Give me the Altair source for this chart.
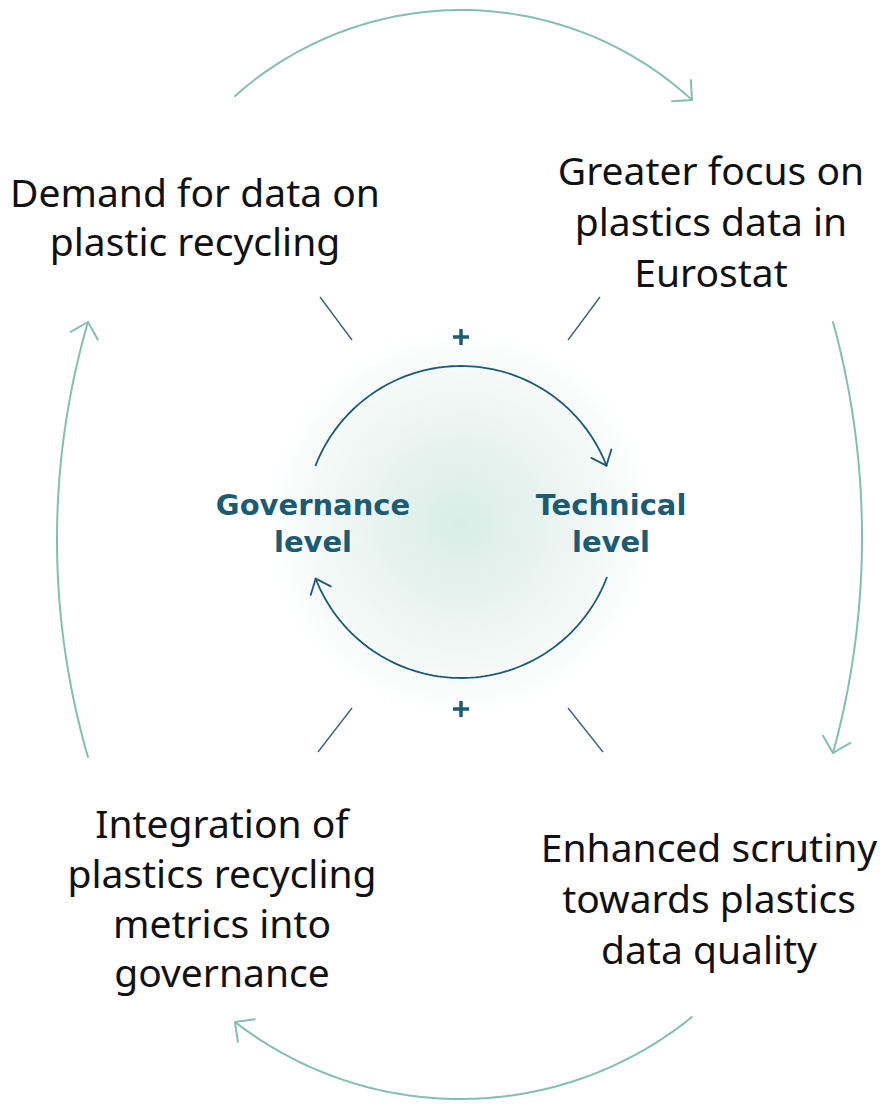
import math
import altair as alt
import pandas as pd

# ---------------- data (reference-pixel coordinates) ----------------
# outer loop arrows: start point, a point on the arc, end point (arrow tip)
outer_start = [(235, 96), (833, 322), (692, 1017), (88, 757)]
outer_mid = [(463, 10), (862, 537), (463, 1099), (57, 540)]
outer_end = [(692, 100), (833, 753), (235, 1022), (88, 322)]

# inner loop: centre, radius, arc start/end angles (deg, screen coords)
inner_center = (461, 522)
inner_radius = 156
inner_start_deg = [-158.7, 20.9]
inner_end_deg = [-21.2, 158.7]

# short connector strokes between boxes and inner loop
spoke_x1 = [320, 600, 352, 568]
spoke_y1 = [297, 297, 708, 708]
spoke_x2 = [352, 568, 318, 603]
spoke_y2 = [340, 340, 752, 752]

# "+" signs
plus_x = [461, 461]
plus_y = [337, 709]

# box labels (one row per text line)
label_lines = ["Demand for data on", "plastic recycling",
               "Greater focus on", "plastics data in", "Eurostat",
               "Integration of", "plastics recycling", "metrics into", "governance",
               "Enhanced scrutiny", "towards plastics", "data quality"]
label_x = [195, 195, 711, 711, 711, 222, 222, 222, 222, 709, 709, 709]
label_y = [207, 256, 185, 236, 287, 838, 888, 938, 987, 862, 913, 964]

center_lines = ["Governance", "level", "Technical", "level"]
center_x = [313, 313, 611, 611]
center_y = [515, 552, 515, 552]

# ---------------- geometry helpers ----------------
def circle_through(p0, pm, p1, n=80):
    ax, ay = p0; bx, by = pm; cx, cy = p1
    d = 2 * (ax * (by - cy) + bx * (cy - ay) + cx * (ay - by))
    ux = ((ax**2 + ay**2) * (by - cy) + (bx**2 + by**2) * (cy - ay) + (cx**2 + cy**2) * (ay - by)) / d
    uy = ((ax**2 + ay**2) * (cx - bx) + (bx**2 + by**2) * (ax - cx) + (cx**2 + cy**2) * (bx - ax)) / d
    r = math.hypot(ax - ux, ay - uy)
    a0 = math.atan2(ay - uy, ax - ux)
    am = math.atan2(by - uy, bx - ux)
    a1 = math.atan2(cy - uy, cx - ux)
    tw = 2 * math.pi
    d1 = (am - a0) % tw
    d2 = (a1 - a0) % tw
    sweep = d2 if d1 < d2 else -(tw - d2)
    return [(ux + r * math.cos(a0 + sweep * k / n), uy + r * math.sin(a0 + sweep * k / n)) for k in range(n + 1)]


def arc_pts(c, r, s_deg, e_deg, n=80):
    s, e = math.radians(s_deg), math.radians(e_deg)
    return [(c[0] + r * math.cos(s + (e - s) * k / n), c[1] + r * math.sin(s + (e - s) * k / n)) for k in range(n + 1)]


def head(pts, length, half_deg):
    tx, ty = pts[-1]
    px, py = pts[-3]
    dx, dy = tx - px, ty - py
    L = math.hypot(dx, dy)
    bx, by = -dx / L, -dy / L
    arms = []
    for sgn in (1, -1):
        a = math.radians(half_deg) * sgn
        rx = bx * math.cos(a) - by * math.sin(a)
        ry = bx * math.sin(a) + by * math.cos(a)
        arms.append([(tx + rx * length, ty + ry * length), (tx, ty)])
    return arms


def to_rows(paths, prefix):
    rows = []
    for j, p in enumerate(paths):
        for i, (x, y) in enumerate(p):
            rows.append({"x": x, "y": y, "seg": f"{prefix}{j}", "i": i})
    return pd.DataFrame(rows)


outer_paths = []
for s, m, e in zip(outer_start, outer_mid, outer_end):
    pts = circle_through(s, m, e)
    outer_paths.append(pts)
    outer_paths.extend(head(pts, 20, 45))

inner_paths = []
for s, e in zip(inner_start_deg, inner_end_deg):
    pts = arc_pts(inner_center, inner_radius, s, e)
    inner_paths.append(pts)
    inner_paths.extend(head(pts, 17, 40))

outer_df = to_rows(outer_paths, "o")
inner_df = to_rows(inner_paths, "n")
spoke_df = pd.DataFrame({"x": spoke_x1, "y": spoke_y1, "x2": spoke_x2, "y2": spoke_y2})
plus_df = pd.DataFrame({"x": plus_x, "y": plus_y})
label_df = pd.DataFrame({"x": label_x, "y": label_y, "t": label_lines})
center_df = pd.DataFrame({"x": center_x, "y": center_y, "t": center_lines})
glow_df = pd.DataFrame({"x": [inner_center[0]], "y": [inner_center[1]]})

W, H = 871, 1095
xs = alt.Scale(domain=[8, 8 + W], nice=False, zero=False)
ys = alt.Scale(domain=[8, 8 + H], nice=False, zero=False, reverse=True)
X = lambda f="x": alt.X(f"{f}:Q", scale=xs, axis=None)
Y = lambda f="y": alt.Y(f"{f}:Q", scale=ys, axis=None)

DARK = "#1c5b72"
LIGHT = "#84bfb2"
SPOKE = "#3f6470"

glow = alt.Chart(glow_df).mark_circle(
    size=math.pi * 235 ** 2,
    opacity=1,
    strokeWidth=0,
    fill=alt.RadialGradient(
        gradient="radial",
        stops=[
            alt.GradientStop(offset=0, color="#d9ede7"),
            alt.GradientStop(offset=0.4, color="#e8f3ef"),
            alt.GradientStop(offset=0.75, color="#f6faf9"),
            alt.GradientStop(offset=1, color="rgba(255,255,255,0)"),
        ],
    ),
).encode(x=X(), y=Y())

outer = alt.Chart(outer_df).mark_line(color=LIGHT, strokeWidth=2, strokeCap="round").encode(
    x=X(), y=Y(), detail="seg:N", order="i:Q")
inner = alt.Chart(inner_df).mark_line(color=DARK, strokeWidth=1.8, strokeCap="round").encode(
    x=X(), y=Y(), detail="seg:N", order="i:Q")
spokes = alt.Chart(spoke_df).mark_rule(color=SPOKE, strokeWidth=1.4).encode(
    x=X(), y=Y(), x2="x2:Q", y2="y2:Q")

plus_h = alt.Chart(plus_df).transform_calculate(xa="datum.x - 8", xb="datum.x + 8").mark_rule(
    color=DARK, strokeWidth=3.5).encode(x=X("xa"), x2="xb:Q", y=Y())
plus_v = alt.Chart(plus_df).transform_calculate(ya="datum.y - 8", yb="datum.y + 8").mark_rule(
    color=DARK, strokeWidth=3.5).encode(x=X(), y=Y("ya"), y2="yb:Q")

labels = alt.Chart(label_df).mark_text(
    font="Noto Sans", fontSize=39, color="#111111", align="center", baseline="alphabetic"
).encode(x=X(), y=Y(), text="t:N")

centers = alt.Chart(center_df).mark_text(
    font="DejaVu Sans", fontWeight="bold", fontSize=29, color=DARK, align="center", baseline="alphabetic"
).encode(x=X(), y=Y(), text="t:N")

chart = alt.layer(glow, outer, inner, spokes, plus_h, plus_v, labels, centers).properties(
    width=W, height=H, padding=0, autosize=alt.AutoSizeParams(type="none"), background="white"
).configure_view(stroke=None)

chart.save("out.html", embed_options={"renderer": "svg", "actions": False})
